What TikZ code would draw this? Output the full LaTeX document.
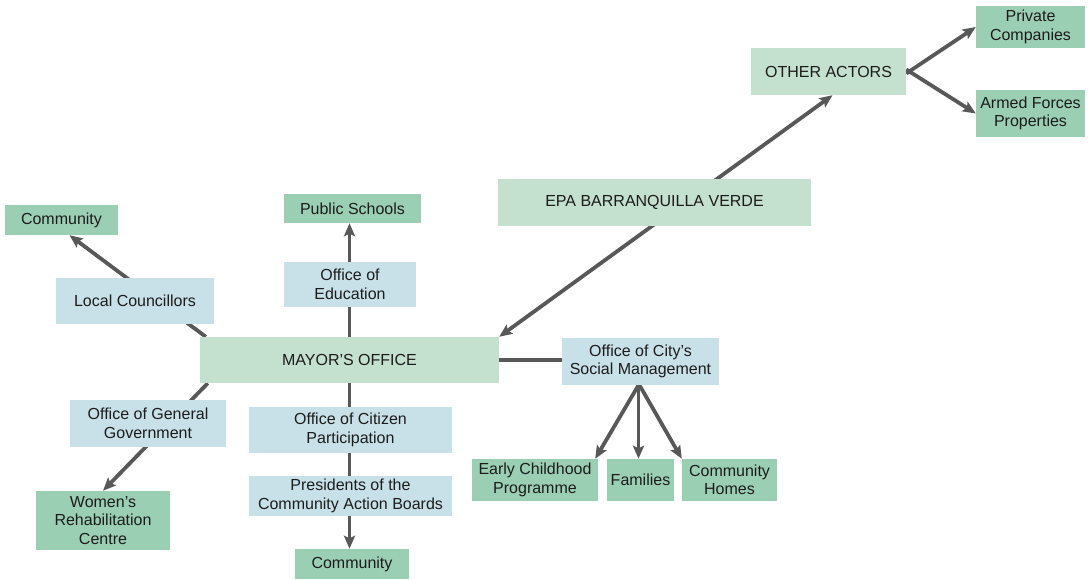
\documentclass[tikz,border=0pt]{standalone}
\usepackage{fontspec}
\setmainfont{Liberation Sans}
\usetikzlibrary{arrows.meta,backgrounds}
\definecolor{palegreen}{RGB}{196,224,206}
\definecolor{paleblue}{RGB}{200,225,232}
\definecolor{midgreen}{RGB}{155,207,180}
\definecolor{linkgray}{RGB}{88,88,88}
\definecolor{inkdark}{RGB}{28,28,28}
\tikzset{
  box/.style={inner sep=0pt, align=center, text=inkdark,
    font=\fontsize{16}{18.5}\selectfont},
  lead/.style={box, fill=palegreen},
  office/.style={box, fill=paleblue},
  target/.style={box, fill=midgreen},
  tip/.style={Stealth[length=13pt,width=11pt,inset=2.5pt]},
  link/.style={draw=linkgray, line width=3.8pt},
  arrowlink/.style={link, -{Stealth[length=13pt,width=11pt,inset=2.5pt]}},
  twoway/.style={link, {Stealth[length=13pt,width=11pt,inset=2.5pt]}-{Stealth[length=13pt,width=11pt,inset=2.5pt]}},
}
\begin{document}
\begin{tikzpicture}[x=1pt,y=-1pt]
\useasboundingbox (0,0) rectangle (1089,580);

% central office
\node[lead, minimum width=299pt, minimum height=46pt] (mayor) at (349.5,360) {MAYOR’S OFFICE};

% left branch
\node[target, minimum width=113pt, minimum height=30pt] (ctop) at (61.5,220) {Community};
\node[office, minimum width=158pt, minimum height=46pt] (lc) at (135,301) {Local Councillors};
\node[office, minimum width=156pt, minimum height=47pt] (ogg) at (148,423.5) {Office of General\\Government};
\node[target, minimum width=134pt, minimum height=59pt] (wr) at (103,520.5) {Women’s\\Rehabilitation\\Centre};

% vertical branch
\node[target, minimum width=137pt, minimum height=29pt] (ps) at (352.5,208.5) {Public Schools};
\node[office, minimum width=132pt, minimum height=45pt] (edu) at (350,284.5) {Office of\\Education};
\node[office, minimum width=203pt, minimum height=46pt] (ocp) at (350.5,430) {Office of Citizen\\Participation};
\node[office, minimum width=203pt, minimum height=40pt] (pcab) at (350.5,496) {Presidents of the\\Community Action Boards};
\node[target, minimum width=114pt, minimum height=30pt] (cbot) at (352,564) {Community};

% right branch
\node[lead, minimum width=313pt, minimum height=47pt] (epa) at (654.5,202.5) {EPA BARRANQUILLA VERDE};
\node[lead, minimum width=155pt, minimum height=47pt] (oa) at (828.5,71.5) {OTHER ACTORS};
\node[target, minimum width=109pt, minimum height=42pt] (pc) at (1030.5,27) {Private\\Companies};
\node[target, minimum width=109pt, minimum height=47pt] (af) at (1030.5,113.5) {Armed Forces\\Properties};

% social management
\node[office, minimum width=157pt, minimum height=47pt] (sm) at (640.5,361.5) {Office of City’s\\Social Management};
\node[target, minimum width=126pt, minimum height=42pt] (ec) at (535,480) {Early Childhood\\Programme};
\node[target, minimum width=67pt, minimum height=42pt] (fam) at (640.5,480) {Families};
\node[target, minimum width=95pt, minimum height=42pt] (ch) at (729.5,480) {Community\\Homes};

\begin{scope}[on background layer]
  \draw[arrowlink] ([xshift=6pt]mayor.north west) -- ([xshift=8pt]ctop.south);
  \draw[arrowlink] ([xshift=8pt]mayor.south west) -- (wr.north);
  \draw[arrowlink] (mayor.north) -- (mayor.north |- ps.south);
  \draw[arrowlink] (mayor.south) -- (mayor.south |- cbot.north);
  \draw[twoway] (mayor.north east) -- ([xshift=4pt]oa.south);
  \draw[arrowlink] ([yshift=-2pt]oa.east) -- (pc.west);
  \draw[arrowlink] ([yshift=2pt]oa.east) -- (af.west);
  \draw[link] (mayor.east) -- (mayor.east -| sm.west);
  \draw[arrowlink] ([xshift=-2pt]sm.south) -- ([xshift=-3pt]ec.north east);
  \draw[arrowlink] ([xshift=-2pt]sm.south) -- ([xshift=-2pt]fam.north);
  \draw[arrowlink] ([xshift=-1pt]sm.south) -- (ch.north west);
\end{scope}
\end{tikzpicture}
\end{document}
